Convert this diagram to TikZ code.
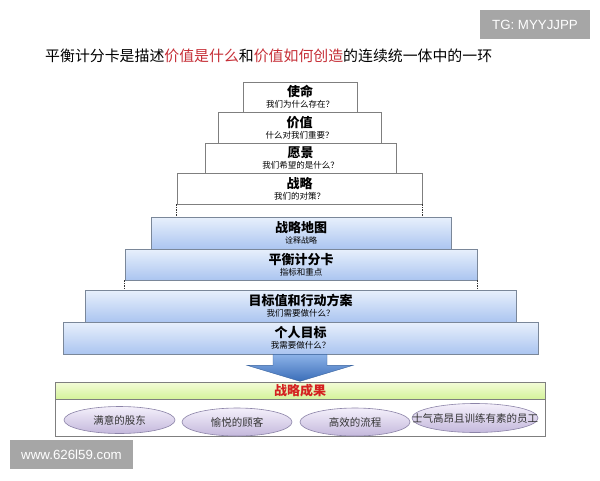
\documentclass[tikz,border=0pt]{standalone}
\usepackage{fontspec}
\setmainfont{Noto Sans CJK SC}
\newfontfamily\wmfont{Liberation Sans}
\usetikzlibrary{shapes.geometric,calc}
\definecolor{titlered}{HTML}{C62F37}
\definecolor{boxgray}{HTML}{7F7F7F}
\definecolor{blueedge}{HTML}{7A8799}
\definecolor{bluetop}{HTML}{E8F0FC}
\definecolor{bluebot}{HTML}{ABC5F0}
\definecolor{arrowtop}{HTML}{8DB3E8}
\definecolor{arrowbot}{HTML}{3A6DB8}
\definecolor{arrowedge}{HTML}{3A64A0}
\definecolor{greentop}{HTML}{F4FCD8}
\definecolor{greenbot}{HTML}{D4F39A}
\definecolor{resultred}{HTML}{D42020}
\definecolor{elltop}{HTML}{F4F0FB}
\definecolor{ellbot}{HTML}{C4B8DC}
\definecolor{elledge}{HTML}{8C84A8}
\definecolor{wmgray}{HTML}{A6A6A6}
\definecolor{elltext}{HTML}{333333}
\newcommand\pyrtext[3][8.5]{{\bfseries\fontsize{13}{15}\selectfont #2}\\[-1pt]{\fontsize{#1}{10}\selectfont #3}}
\begin{document}
\begin{tikzpicture}[x=1pt,y=-1pt,
  wbox/.style={draw=boxgray, line width=0.6pt, fill=white, inner sep=0pt, align=center, text=black},
  bbox/.style={draw=blueedge, line width=0.6pt, top color=bluetop, bottom color=bluebot, inner sep=0pt, align=center, text=black},
  conn/.style={draw=black!80, line width=0.5pt, dash pattern=on 1.5pt off 1pt},
  arrowfill/.style={draw=arrowedge, line width=0.4pt, top color=arrowtop, bottom color=arrowbot},
  greenbar/.style={draw=boxgray, line width=0.5pt, top color=greentop, bottom color=greenbot, inner sep=0pt, text=resultred, font=\bfseries\fontsize{13}{15}\selectfont},
  outbox/.style={draw=boxgray, line width=0.5pt, fill=white, inner sep=0pt},
  oval/.style={ellipse, draw=elledge, line width=0.6pt, top color=elltop, bottom color=ellbot, inner sep=0pt},
  ovaltext/.style={inner sep=0pt, text=elltext, font=\fontsize{10.5}{12}\selectfont},
  wm/.style={fill=wmgray, text=white, inner sep=0pt, font=\wmfont\fontsize{13.3}{15}\selectfont}
]
\useasboundingbox (0,0) rectangle (600,480);
\fill[white] (0,0) rectangle (600,480);

\node[anchor=west, inner sep=0pt, font=\fontsize{14.9}{16}\selectfont] (title) at (45,56)
  {平衡计分卡是描述\textcolor{titlered}{价值是什么}和\textcolor{titlered}{价值如何创造}的连续统一体中的一环};

\node[wbox, minimum width=114pt, minimum height=30pt] (mission) at (300,97) {\pyrtext{使命}{我们为什么存在？}};
\node[wbox, minimum width=163pt, minimum height=31pt] (value) at (299.5,127.5) {\pyrtext{价值}{什么对我们重要？}};
\node[wbox, minimum width=191pt, minimum height=30pt] (vision) at (300.5,158) {\pyrtext{愿景}{我们希望的是什么？}};
\node[wbox, minimum width=245pt, minimum height=31pt] (strategy) at (299.5,188.5) {\pyrtext{战略}{我们的对策？}};

\node[bbox, minimum width=300pt, minimum height=32pt] (map) at (301,233) {\pyrtext[8]{战略地图}{诠释战略}};
\node[bbox, minimum width=352pt, minimum height=31pt] (bsc) at (301,264.5) {\pyrtext{平衡计分卡}{指标和重点}};
\node[bbox, minimum width=431pt, minimum height=32pt] (target) at (300.5,306) {\pyrtext{目标值和行动方案}{我们需要做什么？}};
\node[bbox, minimum width=475pt, minimum height=32pt] (personal) at (300.5,338) {\pyrtext{个人目标}{我需要做什么？}};

\draw[conn] (strategy.south west) -- (strategy.south west |- map.north);
\draw[conn] (strategy.south east) -- (strategy.south east |- map.north);
\draw[conn] (bsc.south west) -- (bsc.south west |- target.north);
\draw[conn] (bsc.south east) -- (bsc.south east |- target.north);

\coordinate (as) at ($(personal.south)+(-0.5,0)$);
\draw[arrowfill] ($(as)+(-27,0)$) -- ($(as)+(27,0)$) -- ($(as)+(27,11)$) -- ($(as)+(53,11)$)
  -- ($(as)+(0,27)$) -- ($(as)+(-53,11)$) -- ($(as)+(-27,11)$) -- cycle;

\node[greenbar, minimum width=490pt, minimum height=17pt] (result) at (300,390.5) {战略成果};
\node[outbox, minimum width=490pt, minimum height=37pt] (outcomes) at (300,417.5) {};

\node[oval, minimum width=111pt, minimum height=27pt, label={[ovaltext]center:满意的股东}] (e1) at (119.5,420) {};
\node[oval, minimum width=110pt, minimum height=28pt, label={[ovaltext]center:愉悦的顾客}] (e2) at (237,422) {};
\node[oval, minimum width=110pt, minimum height=28pt, label={[ovaltext]center:高效的流程}] (e3) at (355,422) {};
\node[oval, minimum width=126pt, minimum height=29pt, label={[ovaltext]center:士气高昂且训练有素的员工}] (e4) at (475,418) {};

\node[wm, minimum width=110pt, minimum height=29pt] (tg) at (535,24.5) {TG: MYYJJPP};
\node[wm, minimum width=123pt, minimum height=29pt] (www) at (71.5,454.5) {www.626l59.com};
\end{tikzpicture}
\end{document}
